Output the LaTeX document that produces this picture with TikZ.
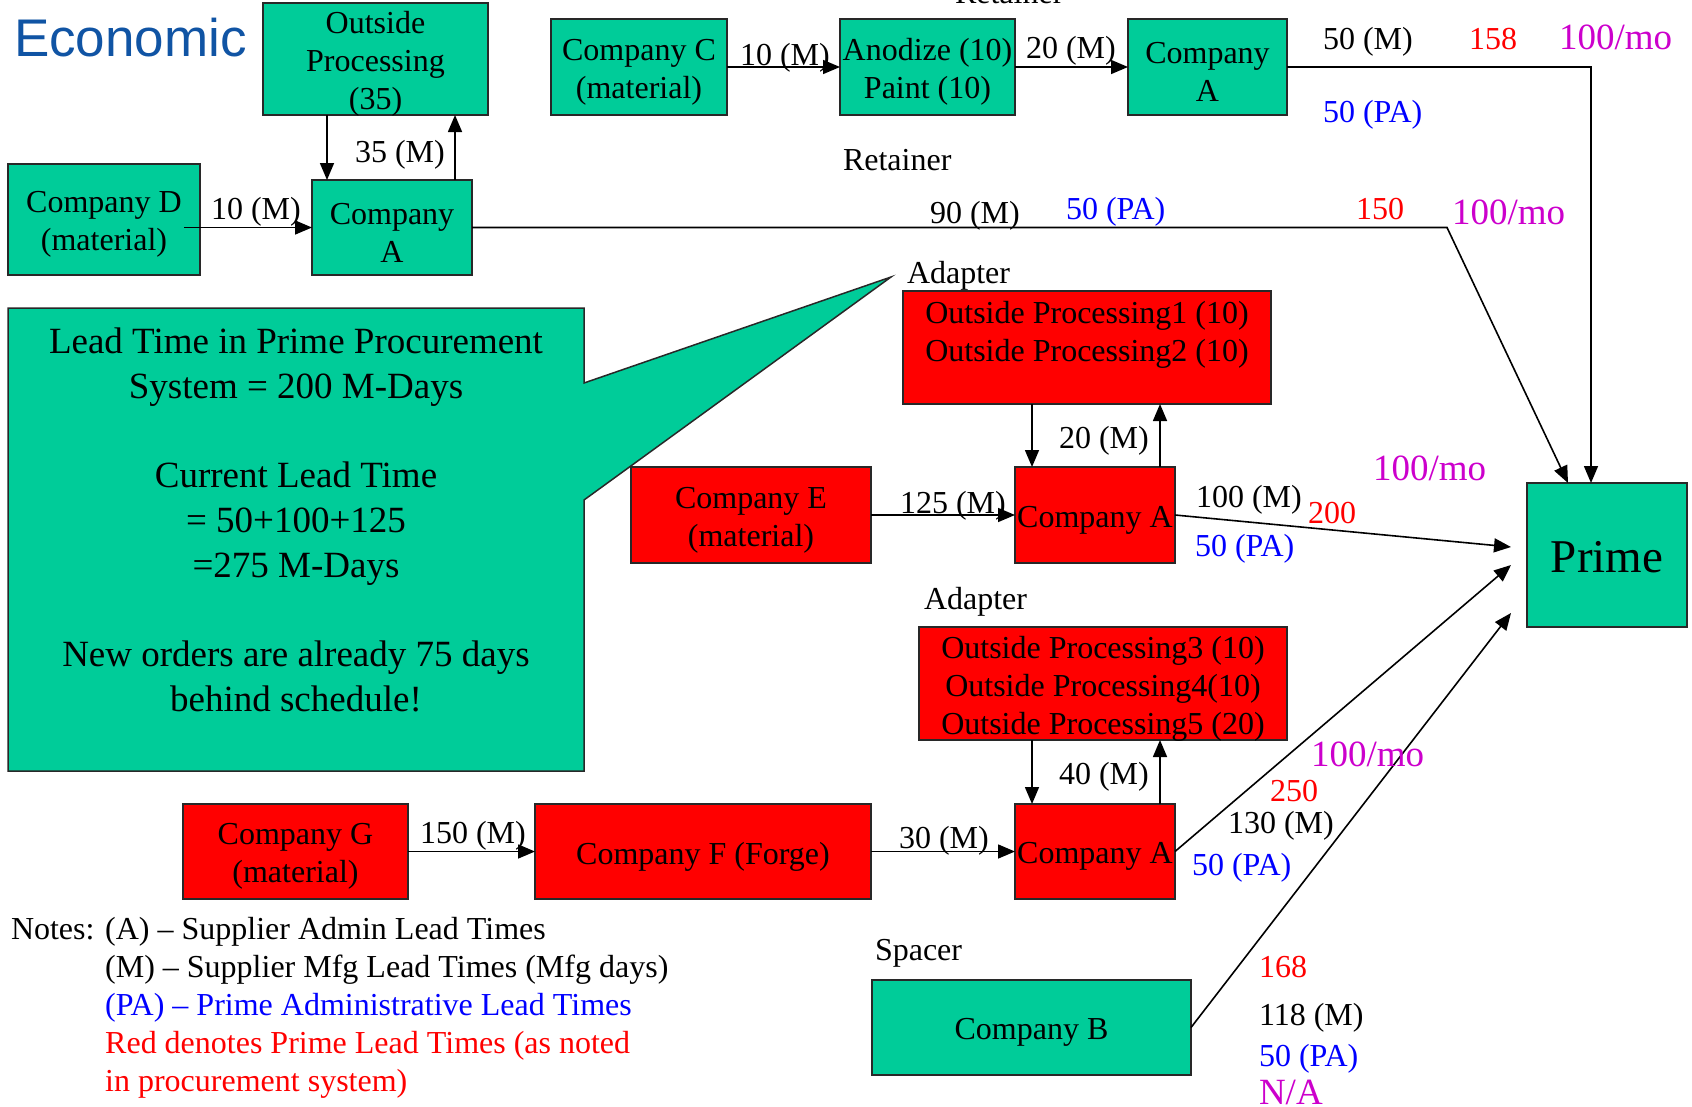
\documentclass[tikz,border=0pt]{standalone}
\usepackage{fontspec}
\setmainfont{Liberation Serif}
\newfontfamily\titlefont{Liberation Sans}
\usetikzlibrary{arrows.meta,calc}
\definecolor{boxgreen}{RGB}{0,204,153}
\definecolor{boxred}{RGB}{255,0,0}
\definecolor{edgegray}{RGB}{40,40,40}
\definecolor{padm}{RGB}{0,0,255}
\definecolor{ptime}{RGB}{255,0,0}
\definecolor{rate}{RGB}{204,0,204}
\definecolor{titleblue}{RGB}{16,84,164}

\begin{document}
\begin{tikzpicture}[x=1pt,y=-1pt,
  every node/.style={inner sep=0pt, outer sep=0pt},
  txt/.style={font=\fontsize{32}{38}\selectfont},
  sz/.style 2 args={minimum width=#1pt, minimum height=#2pt},
  box/.style={draw=edgegray, line width=1.5pt},
  gbox/.style={box, fill=boxgreen},
  rbox/.style={box, fill=boxred},
  % box caption, set a little below the box centre
  cap/.style={label={[txt, align=center, yshift=-5pt]center:{#1}}},
  lbl/.style={anchor=base west, txt},
  pt/.style={lbl, text=ptime},
  pa/.style={lbl, text=padm},
  rt/.style={anchor=base west, text=rate, font=\fontsize{37}{44}\selectfont},
  arr/.style={draw=black, line width=1.6pt, -{Triangle[length=17pt,width=14pt]}}
]
\useasboundingbox (0,0) rectangle (1692,1106);
\clip (0,0) rectangle (1692,1106);

% title
\node[anchor=base west, font=\titlefont\fontsize{53}{60}\selectfont, text=titleblue] (title) at (14,56) {Economic};
\node[lbl] (rettop) at (955,3) {Retainer};

% callout
\path[draw=edgegray, fill=boxgreen, line width=1.5pt]
  (8,308) -- (584,308) -- (584,383) -- (891,277) -- (584,500) -- (584,771) -- (8,771) -- cycle;
\node[anchor=north, align=center, font=\fontsize{37}{44.7}\selectfont] (lead) at (296,328)
  {Lead Time in Prime Procurement\\System = 200 M-Days\\[44.7pt]Current Lead Time\\= 50+100+125\\=275 M-Days\\[44.7pt]New orders are already 75 days\\behind schedule!};

% supplier boxes
\node[gbox, sz={225}{112}, cap={Outside\\Processing\\(35)}] (op1) at (375.5,59) {};
\node[gbox, sz={192}{111}, cap={Company D\\(material)}] (cd) at (104,219.5) {};
\node[gbox, sz={160}{95}, cap={Company\\A}] (ca1) at (392,227.5) {};
\node[gbox, sz={176}{96}, cap={Company C\\(material)}] (cc) at (639,67) {};
\node[gbox, sz={175}{96}, cap={Anodize (10)\\Paint (10)}] (an) at (927.5,67) {};
\node[gbox, sz={159}{96}, cap={Company\\A}] (ca0) at (1207.5,67) {};
\node[gbox, sz={160}{144}, label={[font=\fontsize{47}{56}\selectfont, yshift=-2pt]center:Prime}] (prime) at (1607,555) {};
\node[rbox, sz={368}{113}, label={[txt, align=center, yshift=13pt]center:{Outside Processing1 (10)\\Outside Processing2 (10)}}] (op2) at (1087,347.5) {};
\node[rbox, sz={240}{96}, cap={Company E\\(material)}] (ce) at (751,515) {};
\node[rbox, sz={160}{96}, cap={Company A}] (ca2) at (1095,515) {};
\node[rbox, sz={368}{113}, cap={Outside Processing3 (10)\\Outside Processing4(10)\\Outside Processing5 (20)}] (op3) at (1103,683.5) {};
\node[rbox, sz={160}{95}, cap={Company A}] (ca3) at (1095,851.5) {};
\node[rbox, sz={225}{95}, cap={Company G\\(material)}] (cg) at (295.5,851.5) {};
\node[rbox, sz={336}{95}, cap={Company F (Forge)}] (cf) at (703,851.5) {};
\node[gbox, sz={319}{95}, cap={Company B}] (cb) at (1031.5,1027.5) {};

% connectors
\coordinate (a1d) at ($(ca1.north west)+(15,0)$);
\coordinate (a1u) at ($(ca1.north east)+(-17,0)$);
\draw[arr] (a1d |- op1.south) -- (a1d);
\draw[arr] (a1u) -- (a1u |- op1.south);
\draw[arr] ($(cd.east |- ca1.west)+(-16,0)$) -- (ca1.west);
\draw[arr] (cc.east) -- (an.west);
\draw[arr] (an.east) -- (ca0.west);
\draw[arr] (ca0.east) -| ([xshift=-16pt]prime.north);
\coordinate (k1) at (1447,227.5);
\draw[arr] (ca1.east) -- (k1) -- ([xshift=-39pt]prime.north);

\coordinate (a2d) at ($(ca2.north west)+(17,0)$);
\coordinate (a2u) at ($(ca2.north east)+(-15,0)$);
\draw[arr] (a2d |- op2.south) -- (a2d);
\draw[arr] (a2u) -- (a2u |- op2.south);
\draw[arr] (ce.east) -- (ca2.west);

\coordinate (a3d) at ($(ca3.north west)+(17,0)$);
\coordinate (a3u) at ($(ca3.north east)+(-15,0)$);
\draw[arr] (a3d |- op3.south) -- (a3d);
\draw[arr] (a3u) -- (a3u |- op3.south);
\draw[arr] (cg.east) -- (cf.west);
\draw[arr] (cf.east) -- (ca3.west);

\coordinate (t1) at (1511,547);
\coordinate (t2) at (1511,565);
\coordinate (t3) at (1511,613);
\draw[arr] (ca2.east) -- (t1);
\draw[arr] (ca3.east) -- (t2);
\draw[arr] (cb.east) -- (t3);

% lead-time labels, top row
\node[lbl] (l1) at (740,65) {10 (M)};
\node[lbl] (l2) at (1026,58) {20 (M)};
\node[lbl] (l3) at (1323,49) {50 (M)};
\node[pt] (l4) at (1469,49) {158};
\node[rt] (l5) at (1559,49) {100/mo};
\node[pa] (l6) at (1323,122) {50 (PA)};
% second row
\node[lbl] (m1) at (355,162) {35 (M)};
\node[lbl] (m2) at (211,219) {10 (M)};
\node[lbl] (m3) at (843,170) {Retainer};
\node[lbl] (m4) at (930,223) {90 (M)};
\node[pa] (m5) at (1066,219) {50 (PA)};
\node[pt] (m6) at (1356,219) {150};
\node[rt] (m7) at (1452,224) {100/mo};
% first adapter
\node[lbl] (n1) at (907,283) {Adapter};
\node[lbl] (n2) at (1059,448) {20 (M)};
\node[lbl] (n3) at (900,513) {125 (M)};
\node[lbl] (n4) at (1196,507) {100 (M)};
\node[pt] (n5) at (1308,523) {200};
\node[pa] (n6) at (1195,556) {50 (PA)};
\node[rt] (n7) at (1373,480) {100/mo};
% second adapter
\node[lbl] (p1) at (924,609) {Adapter};
\node[lbl] (p2) at (1059,784) {40 (M)};
\node[lbl] (p3) at (420,843) {150 (M)};
\node[lbl] (p4) at (899,848) {30 (M)};
\node[rt] (p5) at (1311,766) {100/mo};
\node[pt] (p6) at (1270,801) {250};
\node[lbl] (p7) at (1228,833) {130 (M)};
\node[pa] (p8) at (1192,875) {50 (PA)};
% spacer
\node[lbl] (q1) at (875,960) {Spacer};
\node[pt] (q2) at (1259,977) {168};
\node[lbl] (q3) at (1259,1025) {118 (M)};
\node[pa] (q4) at (1259,1066) {50 (PA)};
\node[rt] (q5) at (1259,1104) {N/A};

% notes
\node[lbl] (notes) at (11,939) {Notes: \begin{tabular}[t]{@{}l@{}}(A) – Supplier Admin Lead Times\\(M) – Supplier Mfg Lead Times (Mfg days)\\\textcolor{padm}{(PA) – Prime Administrative Lead Times}\\\textcolor{ptime}{Red denotes Prime Lead Times (as noted}\\\textcolor{ptime}{in procurement system)}\end{tabular}};
\end{tikzpicture}
\end{document}
